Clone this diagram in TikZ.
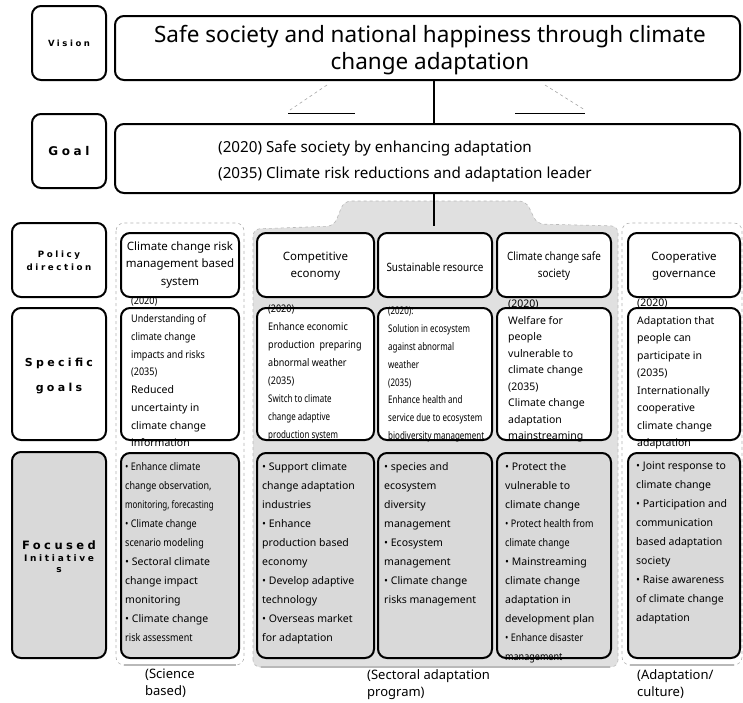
\documentclass[tikz,border=0pt]{standalone}
\usepackage{fontspec}
\setmainfont{Noto Sans}
\newfontfamily\narrowfont{Noto Sans}[FakeStretch=0.86]
\newfontfamily\tightfont{Noto Sans}[FakeStretch=0.76]
\newfontfamily\labelfont{DejaVu Sans}[LetterSpace=30]
\begin{document}
\begin{tikzpicture}[x=1pt,y=-1pt,
  boxframe/.style={draw=black,line width=2pt,rounded corners=9pt,inner sep=0pt},
  boxgray/.style={boxframe,fill=gray!30},
  outerdash/.style={draw=gray!60,dashed,line width=0.6pt,rounded corners=8pt},
  groupbase/.style={draw=gray!55,line width=1.4pt},
  labeltext/.style={align=center,inner sep=0pt},
  poltext/.style={align=center,inner sep=0pt,font=\fontsize{11.5}{17.5}\selectfont},
  spectext/.style={anchor=north west,align=left,inner sep=0pt},
  foctext/.style={anchor=north west,align=left,inner sep=0pt,font=\fontsize{10.5}{19}\selectfont},
  captext/.style={anchor=north west,align=left,inner sep=0pt,font=\fontsize{13}{17}\selectfont},
  callout/.style={draw=gray!70,dashed,line width=0.6pt},
  ledge/.style={draw=black,line width=1.5pt},
]
\useasboundingbox (0,0) rectangle (743,702);

% ---------- group backgrounds ----------
% sectoral adaptation programme: shaded panel with a tab under the goal box
\path[draw=gray!55,dashed,line width=0.6pt,fill=gray!24,rounded corners=7pt]
  (253,667) -- (253,229) -- (334,226) -- (344,201) -- (526,201) -- (537,224)
  -- (618,226) -- (618,667) -- cycle;
% science based / adaptation culture groups
\draw[outerdash] (116,223) rectangle (244,665);
\draw[outerdash] (622,223) rectangle (742,665);
% darker lower edges of the three groups
\coordinate (sciB1) at (124,665); \coordinate (sciB2) at (236,665);
\coordinate (secB1) at (261,667); \coordinate (secB2) at (610,667);
\coordinate (coopB1) at (630,665); \coordinate (coopB2) at (734,665);
\draw[groupbase] (sciB1) -- (sciB2);
\draw[groupbase] (secB1) -- (secB2);
\draw[groupbase] (coopB1) -- (coopB2);

% ---------- row labels ----------
\node[boxframe,minimum width=74pt,minimum height=74pt] (visLab) at (69,43) {};
\node[boxframe,minimum width=74pt,minimum height=74pt] (goalLab) at (69,151) {};
\node[boxframe,minimum width=94pt,minimum height=74pt] (polLab) at (59,260) {};
\node[boxframe,minimum width=94pt,minimum height=132pt] (specLab) at (59,374) {};
\node[boxgray,minimum width=94pt,minimum height=206pt] (focLab) at (59,555) {};

\node[labeltext,font=\labelfont\bfseries\fontsize{8.5}{11}\selectfont] (visLabT) at (visLab) {Vision};
\node[labeltext,font=\labelfont\bfseries\fontsize{12}{14}\selectfont] (goalLabT) at (goalLab) {Goal};
\node[labeltext,font=\labelfont\bfseries\fontsize{8.7}{13}\selectfont] (polLabT) at (59,261) {Policy\\direction};
\node[labeltext,font=\labelfont\bfseries\fontsize{11}{25}\selectfont] (specLabT) at (59,376) {Specific\\goals};
\node[labeltext,font=\labelfont\bfseries\fontsize{9}{11.5}\selectfont] (focLabT) at (59,557)
  {{\fontsize{11.5}{11.5}\selectfont Focused}\\Initiative\\s};

% ---------- vision and goal ----------
\node[boxframe,minimum width=625pt,minimum height=64pt] (visBox) at (427.5,48) {};
\node[align=center,inner sep=0pt,font=\fontsize{22.5}{27}\selectfont] (visT) at (430,50)
  {Safe society and national happiness through climate\\change adaptation};

\node[boxframe,minimum width=625pt,minimum height=69pt] (goalBox) at (427.5,158.5) {};
\node[anchor=west,align=left,inner sep=0pt,font=\fontsize{15.2}{26}\selectfont] (goalT) at (218,162)
  {(2020) Safe society by enhancing adaptation\\(2035) Climate risk reductions and adaptation leader};

% spine linking vision, goal and the sectoral panel
\coordinate (spine) at (434,0);
\coordinate (tabEnd) at (434,226);
\draw[ledge] (visBox.south -| spine) -- (goalBox.north -| spine);
\draw[ledge] (goalBox.south -| spine) -- (tabEnd);

% callout marks between vision and goal
\coordinate (cl1) at (327,85);  \coordinate (cl2) at (290,110);
\coordinate (cl3) at (288,113); \coordinate (cl4) at (355,113);
\coordinate (cr1) at (545,85);  \coordinate (cr2) at (585,110);
\coordinate (cr3) at (515,113); \coordinate (cr4) at (585,113);
\draw[callout] (cl1) -- (cl2);
\draw[callout] (cr1) -- (cr2);
\draw[black,line width=0.9pt] (cl3) -- (cl4);
\draw[black,line width=0.9pt] (cr3) -- (cr4);

% ---------- policy direction ----------
\node[boxframe,fill=white,minimum width=118pt,minimum height=64pt] (p1) at (180,265) {};
\node[boxframe,fill=white,minimum width=117pt,minimum height=64pt] (p2) at (315.5,265) {};
\node[boxframe,fill=white,minimum width=114pt,minimum height=64pt] (p3) at (435,265) {};
\node[boxframe,fill=white,minimum width=114pt,minimum height=64pt] (p4) at (554,265) {};
\node[boxframe,fill=white,minimum width=112pt,minimum height=64pt] (p5) at (684,265) {};

\node[poltext] (p1t) at (180,265) {Climate change risk\\management based\\system};
\node[poltext] (p2t) at (315.5,266) {Competitive\\economy};
\node[poltext,font=\narrowfont\fontsize{11.5}{17.5}\selectfont] (p3t) at (435,267) {Sustainable resource};
\node[poltext,font=\narrowfont\fontsize{11.5}{17.5}\selectfont] (p4t) at (554,266) {Climate change safe\\society};
\node[poltext] (p5t) at (684,266) {Cooperative\\governance};

% ---------- specific goals ----------
\node[boxframe,fill=white,minimum width=118pt,minimum height=132pt] (s1) at (180,374) {};
\node[boxframe,fill=white,minimum width=117pt,minimum height=132pt] (s2) at (315.5,374) {};
\node[boxframe,fill=white,minimum width=114pt,minimum height=132pt] (s3) at (435,374) {};
\node[boxframe,fill=white,minimum width=114pt,minimum height=132pt] (s4) at (554,374) {};
\node[boxframe,fill=white,minimum width=112pt,minimum height=132pt] (s5) at (684,374) {};

\node[spectext,font=\fontsize{10.5}{17.75}\selectfont] (s1t) at (131,297)
  {{\narrowfont (2020)}\\{\narrowfont Understanding of}\\{\narrowfont climate change}\\
   {\narrowfont impacts and risks}\\{\narrowfont (2035)}\\Reduced\\uncertainty in\\
   climate change\\information};
\node[spectext,font=\narrowfont\fontsize{10.5}{17.9}\selectfont] (s2t) at (268,305)
  {(2020)\\Enhance economic\\production~~preparing\\abnormal weather\\(2035)\\
   {\tightfont Switch to climate}\\{\tightfont change adaptive}\\{\tightfont production system}};
\node[spectext,font=\tightfont\fontsize{10.5}{17.8}\selectfont] (s3t) at (388,307)
  {(2020):\\Solution in ecosystem\\against abnormal\\weather\\(2035)\\
   Enhance health and\\service due to ecosystem\\biodiversity management};
\node[spectext,font=\fontsize{10.5}{16.5}\selectfont] (s4t) at (508,300)
  {(2020)\\Welfare for\\people\\vulnerable to\\climate change\\(2035)\\
   Climate change\\adaptation\\mainstreaming};
\node[spectext,font=\fontsize{10.5}{17.5}\selectfont] (s5t) at (637,299)
  {(2020)\\Adaptation that\\people can\\participate in\\(2035)\\
   Internationally\\cooperative\\climate change\\adaptation};

% ---------- focused initiatives ----------
\node[boxgray,minimum width=118pt,minimum height=205pt] (f1) at (180,555.5) {};
\node[boxgray,minimum width=117pt,minimum height=205pt] (f2) at (315.5,555.5) {};
\node[boxgray,minimum width=114pt,minimum height=205pt] (f3) at (435,555.5) {};
\node[boxgray,minimum width=114pt,minimum height=205pt] (f4) at (554,555.5) {};
\node[boxgray,minimum width=112pt,minimum height=205pt] (f5) at (684,555.5) {};

\node[foctext] (f1t) at (125,462)
  {{\narrowfont • Enhance climate}\\{\narrowfont change observation,}\\
   {\tightfont monitoring, forecasting}\\{\narrowfont • Climate change}\\
   {\narrowfont scenario modeling}\\• Sectoral climate\\change impact\\monitoring\\
   • Climate change\\{\narrowfont risk assessment}};
\node[foctext] (f2t) at (262,462)
  {• Support climate\\change adaptation\\industries\\• Enhance\\production based\\
   economy\\• Develop adaptive\\technology\\• Overseas market\\for adaptation};
\node[foctext] (f3t) at (384,462)
  {• species and\\ecosystem\\diversity\\management\\• Ecosystem\\management\\
   • Climate change\\risks management};
\node[foctext] (f4t) at (505,462)
  {• Protect the\\vulnerable to\\climate change\\{\narrowfont • Protect health from}\\
   {\narrowfont climate change}\\• Mainstreaming\\climate change\\adaptation in\\
   development plan\\{\narrowfont • Enhance disaster}\\{\narrowfont management}};
\node[foctext] (f5t) at (636,462)
  {• Joint response to\\climate change\\• Participation and\\communication\\
   based adaptation\\society\\• Raise awareness\\of climate change\\adaptation};

% ---------- group captions ----------
\node[captext] (capSci) at (145,669) {(Science\\based)};
\node[captext] (capSect) at (367,669) {(Sectoral adaptation\\program)};
\node[captext] (capCoop) at (637,669) {(Adaptation/\\culture)};
\end{tikzpicture}
\end{document}
